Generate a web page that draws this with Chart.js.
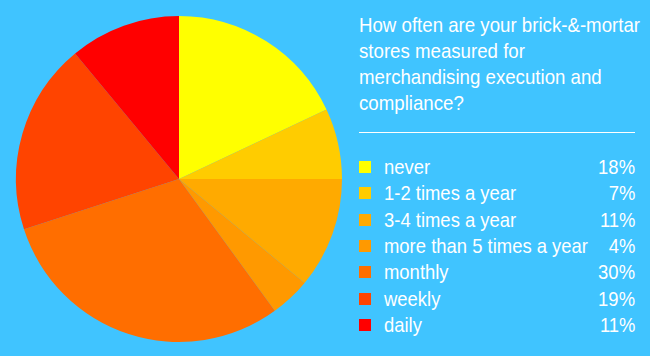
<!DOCTYPE html>
<html>
<head>
<meta charset="utf-8">
<script src="https://cdn.jsdelivr.net/npm/chart.js@4/dist/chart.umd.min.js"></script>
<style>
  html, body { margin: 0; padding: 0; }
  body { width: 650px; height: 356px; background: #40C4FF; position: relative; overflow: hidden;
         font-family: "Liberation Sans", Arial, sans-serif; color: #fff; }
  #wrap { position: absolute; left: 0; top: 0; width: 358px; height: 356px; }
  #title { position: absolute; left: 359px; top: 12px; font-size: 21px; line-height: 26px; white-space: nowrap; transform-origin: left top; }
  #rule { position: absolute; left: 359px; top: 132px; width: 276px; height: 1px; background: #fff; }
  .row { position: absolute; left: 359px; width: 276px; height: 26px; font-size: 21px; line-height: 26px; white-space: nowrap; }
  .sw { position: absolute; left: 0; top: 7px; width: 12px; height: 12px; }
  .lab { position: absolute; left: 25px; top: 0; transform-origin: left top; }
  .pct { position: absolute; right: 0; top: 0; transform-origin: right top; }
</style>
</head>
<body>
<div id="wrap"><canvas id="c"></canvas></div>
<div id="title"></div>
<div id="rule"></div>
<div id="legend"></div>
<script>
const titleLines = ["How often are your brick-&-mortar", "stores measured for", "merchandising execution and", "compliance?"];
const categories = ["never", "1-2 times a year", "3-4 times a year", "more than 5 times a year", "monthly", "weekly", "daily"];
const values = [18, 7, 11, 4, 30, 19, 11];
const colors = ["#FFFF00", "#FFCC00", "#FFAA00", "#FF9900", "#FF6E00", "#FF4400", "#FF0000"];

const mctx = document.createElement('canvas').getContext('2d');
mctx.font = '21px "Liberation Sans", Arial, sans-serif';
const kTitle = 281 / mctx.measureText(titleLines[0]).width;
const kLeg = 204 / mctx.measureText(categories[3]).width;

const tEl = document.getElementById('title');
tEl.innerHTML = titleLines.map(t => t.replace(/&/g, '&amp;')).join('<br>');
tEl.style.transform = 'scaleX(' + kTitle + ')';
const leg = document.getElementById('legend');
categories.forEach((cat, i) => {
  const row = document.createElement('div');
  row.className = 'row';
  row.style.top = (154 + i * 26.3) + 'px';
  row.innerHTML = '<div class="sw" style="background:' + colors[i] + '"></div><span class="lab"></span><span class="pct"></span>';
  const lab = row.querySelector('.lab'), pct = row.querySelector('.pct');
  lab.textContent = cat;
  pct.textContent = values[i] + '%';
  lab.style.transform = 'scaleX(' + kLeg + ')';
  pct.style.transform = 'scaleX(' + kLeg + ')';
  leg.appendChild(row);
});

new Chart(document.getElementById('c'), {
  type: 'pie',
  data: { labels: categories, datasets: [{ data: values, backgroundColor: colors, borderWidth: 0 }] },
  options: {
    responsive: true, maintainAspectRatio: false, animation: false,
    layout: { padding: { top: 16, bottom: 14, left: 16, right: 16 } },
    plugins: { legend: { display: false }, tooltip: { enabled: false } }
  }
});
</script>
</body>
</html>
